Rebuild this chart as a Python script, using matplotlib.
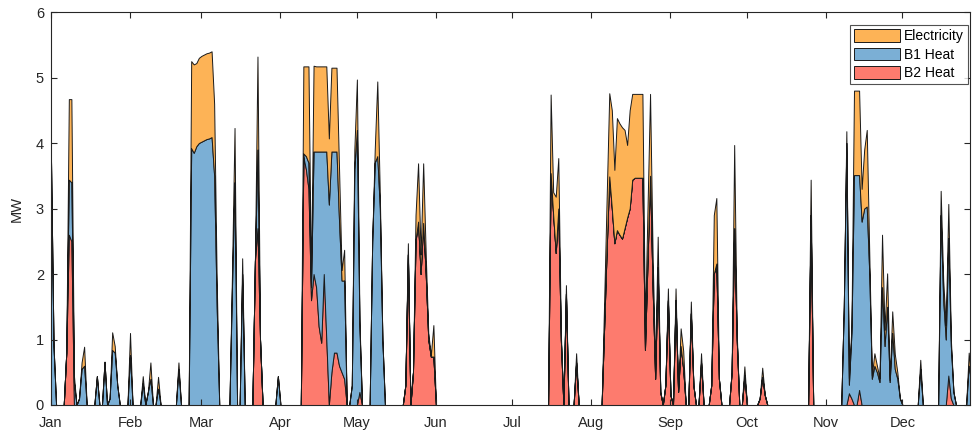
import numpy as np
import matplotlib
matplotlib.use("Agg")
import matplotlib.pyplot as plt

# day of year (0 = Jan 1) for every non-zero day, and the MW of each series
days = [0, 1, 6, 7, 8, 9, 11, 12, 13, 18, 21, 23, 24, 25, 26, 31, 36, 38, 39, 42, 50,
        55, 56, 57, 58, 59, 60, 61, 62, 63, 64, 65, 71, 72, 75, 80, 81, 82, 89,
        99, 100, 101, 102, 103, 104, 105, 106, 107, 108, 109, 110, 111, 112, 113, 114, 115,
        118, 119, 120, 121, 126, 127, 128, 129, 130,
        139, 140, 142, 143, 144, 145, 146, 147, 148, 149, 150,
        196, 197, 198, 199, 200, 202, 206,
        217, 218, 219, 220, 221, 222, 223, 224, 225, 226, 227, 228, 229, 230, 231, 232,
        233, 234, 235, 236, 237, 238, 239, 241, 242, 243, 245, 246, 247, 248, 251, 252, 255,
        259, 260, 261, 262, 267, 268, 269, 272, 278, 279, 280, 298,
        311, 312, 313, 314, 315, 316, 317, 318, 319, 320, 321, 322, 323, 324, 325,
        326, 327, 328, 329, 330, 331, 332, 333, 341, 349, 350, 351, 352, 353, 354, 360, 361]

b2_heat = [0, 0, 0.8, 2.6, 2.5, 0, 0, 0, 0, 0, 0, 0, 0, 0, 0, 0, 0, 0, 0, 0, 0,
           0, 0, 0, 0, 0, 0, 0, 0, 0, 0, 0, 0, 0, 0, 2.2, 2.7, 1.0, 0,
           3.79, 3.6, 3.3, 1.6, 2.0, 1.8, 1.2, 0.95, 2.0, 1.0, 0, 0.5, 0.8, 0.8, 0.6, 0.5, 0.4,
           0, 0, 0, 0.2, 0, 0, 0, 0, 0,
           0.3, 2.3, 0.5, 2.5, 2.8, 2.0, 2.78, 2.0, 1.0, 0.74, 0.74,
           3.54, 2.9, 2.32, 3.0, 1.0, 1.7, 0.65,
           1.2, 2.4, 3.49, 3.0, 2.47, 2.67, 2.6, 2.54, 2.7, 2.86, 3.0, 3.44, 3.47, 3.47, 3.47, 3.47,
           0.84, 2.2, 3.5, 1.8, 0.4, 2.1, 0.2, 0.3, 1.6, 0.15, 1.6, 0.2, 0.9, 0.55, 1.4, 0.3, 0.65,
           0.3, 2.0, 2.16, 0.4, 0.5, 2.7, 1.0, 0.45, 0.1, 0.43, 0.15, 2.9,
           0, 0, 0.18, 0.1, 0, 0, 0.23, 0, 0, 0, 0, 0, 0, 0, 0,
           0, 0, 0, 0, 0, 0, 0, 0, 0, 0, 0, 0, 0.45, 0.1, 0, 0, 0]

b1_heat = [3.75, 0.9, 0, 0.84, 0.9, 0.35, 0.1, 0.55, 0.6, 0.44, 0.66, 0.1, 0.84, 0.8, 0.3, 0.76, 0.33, 0.2, 0.4, 0.25, 0.55,
           3.92, 3.85, 3.95, 4.0, 4.02, 4.04, 4.06, 4.07, 4.09, 3.5, 1.5, 1.8, 3.4, 2.0, 0, 1.2, 0, 0.44,
           0.05, 0.2, 0.4, 0.2, 1.87, 2.07, 2.67, 2.92, 1.87, 2.87, 3.06, 3.37, 3.07, 3.07, 2.2, 1.4, 1.5,
           0.3, 3.6, 4.2, 1.0, 2.5, 3.7, 3.8, 3.0, 1.0,
           0, 0, 0, 0, 0, 0, 0, 0, 0, 0, 0,
           0, 0, 0, 0, 0, 0, 0,
           0, 0, 0, 0, 0, 0, 0, 0, 0, 0, 0, 0, 0, 0, 0, 0,
           0, 0, 0, 0, 0, 0, 0, 0, 0, 0, 0, 0, 0, 0, 0, 0, 0,
           0, 0, 0, 0, 0, 0, 0, 0, 0, 0, 0, 0,
           1.5, 4.0, 0.13, 1.0, 3.51, 3.51, 3.28, 2.8, 3.0, 3.03, 2.0, 0.4, 0.6, 0.5, 0.35,
           1.8, 0.9, 1.5, 0.35, 1.1, 0.55, 0.4, 0.1, 0.55, 2.9, 1.6, 1.0, 2.1, 0.8, 0.2, 0.6, 0.35]

elec = [0, 0, 0, 1.23, 1.27, 0.1, 0, 0.1, 0.29, 0, 0, 0, 0.27, 0.1, 0, 0.34, 0.11, 0, 0.25, 0.18, 0.1,
        1.33, 1.35, 1.27, 1.3, 1.31, 1.31, 1.31, 1.31, 1.31, 1.1, 0.4, 0.2, 0.83, 0.24, 0, 1.42, 0, 0,
        1.33, 1.37, 1.47, 0.1, 1.31, 1.3, 1.3, 1.3, 1.3, 1.3, 1.01, 1.28, 1.28, 1.28, 0.8, 0.16, 0.47,
        0, 0.3, 0.77, 0.1, 0, 0.2, 1.14, 0.2, 0,
        0, 0.17, 0, 0.4, 0.89, 0.3, 0.91, 0.3, 0.1, 0.02, 0.48,
        1.2, 0.35, 0.86, 0.77, 0.1, 0.13, 0.14,
        0.4, 0.8, 1.27, 1.5, 1.12, 1.71, 1.7, 1.7, 1.5, 1.11, 1.5, 1.31, 1.28, 1.28, 1.28, 1.28,
        0.36, 0.8, 1.25, 0.5, 0.2, 0.47, 0, 0, 0.18, 0, 0.18, 0, 0.27, 0.28, 0.18, 0, 0.14,
        0, 0.9, 1.0, 0, 0, 1.27, 0.1, 0.14, 0, 0.14, 0, 0.54,
        0, 0.18, 0.1, 0.1, 1.29, 1.29, 1.29, 0.5, 0.9, 1.17, 0.3, 0.05, 0.19, 0.1, 0.06,
        0.8, 0.25, 0.51, 0.03, 0.33, 0.23, 0.1, 0, 0.14, 0.37, 0.3, 0.22, 0.52, 0.1, 0, 0.2, 0]

month_starts = [0, 31, 59, 90, 120, 151, 181, 212, 243, 273, 304, 334]
month_labels = ['Jan', 'Feb', 'Mar', 'Apr', 'May', 'Jun', 'Jul', 'Aug', 'Sep', 'Oct', 'Nov', 'Dec']

# spread the sparse lists out over the whole year
x = np.arange(365)
red = np.zeros(365)
blue = np.zeros(365)
orange = np.zeros(365)
red[days] = b2_heat
blue[days] = b1_heat
orange[days] = elec

plt.rcParams['font.family'] = ['Liberation Sans', 'DejaVu Sans']

fig = plt.figure(figsize=(9.73, 4.32), dpi=100)
ax = fig.add_axes([0.0524, 0.0625, 0.9445, 0.9097])

c_red = '#FD7B6E'
c_blue = '#7BAFD5'
c_orange = '#FDB356'

polys = ax.stackplot(x, red, blue, orange, colors=[c_red, c_blue, c_orange],
                     edgecolor='#1a1a1a', linewidth=0.7)

ax.set_xlim(0, 360.5)
ax.set_ylim(0, 6)
ax.set_xticks(month_starts)
ax.set_xticklabels(month_labels)
ax.set_yticks(range(7))
ax.set_ylabel('MW', fontsize=10.5, color='#262626', labelpad=9)

ax.tick_params(direction='in', length=4, top=True, right=True, labelsize=10.5,
               colors='#262626', width=0.8)
ax.tick_params(axis='x', pad=8)
ax.tick_params(axis='y', pad=5)
for s in ax.spines.values():
    s.set_color('#262626')
    s.set_linewidth(0.8)

leg = ax.legend([polys[2], polys[1], polys[0]], ['Electricity', 'B1 Heat', 'B2 Heat'],
                loc='upper right', bbox_to_anchor=(0.998, 0.967), fontsize=10,
                fancybox=False, edgecolor='#262626',
                handlelength=3.3, handleheight=1.0, handletextpad=0.3,
                borderaxespad=0, labelspacing=0.33, borderpad=0.3)
leg.get_frame().set_linewidth(0.8)

fig.savefig('out.png', dpi=100)
